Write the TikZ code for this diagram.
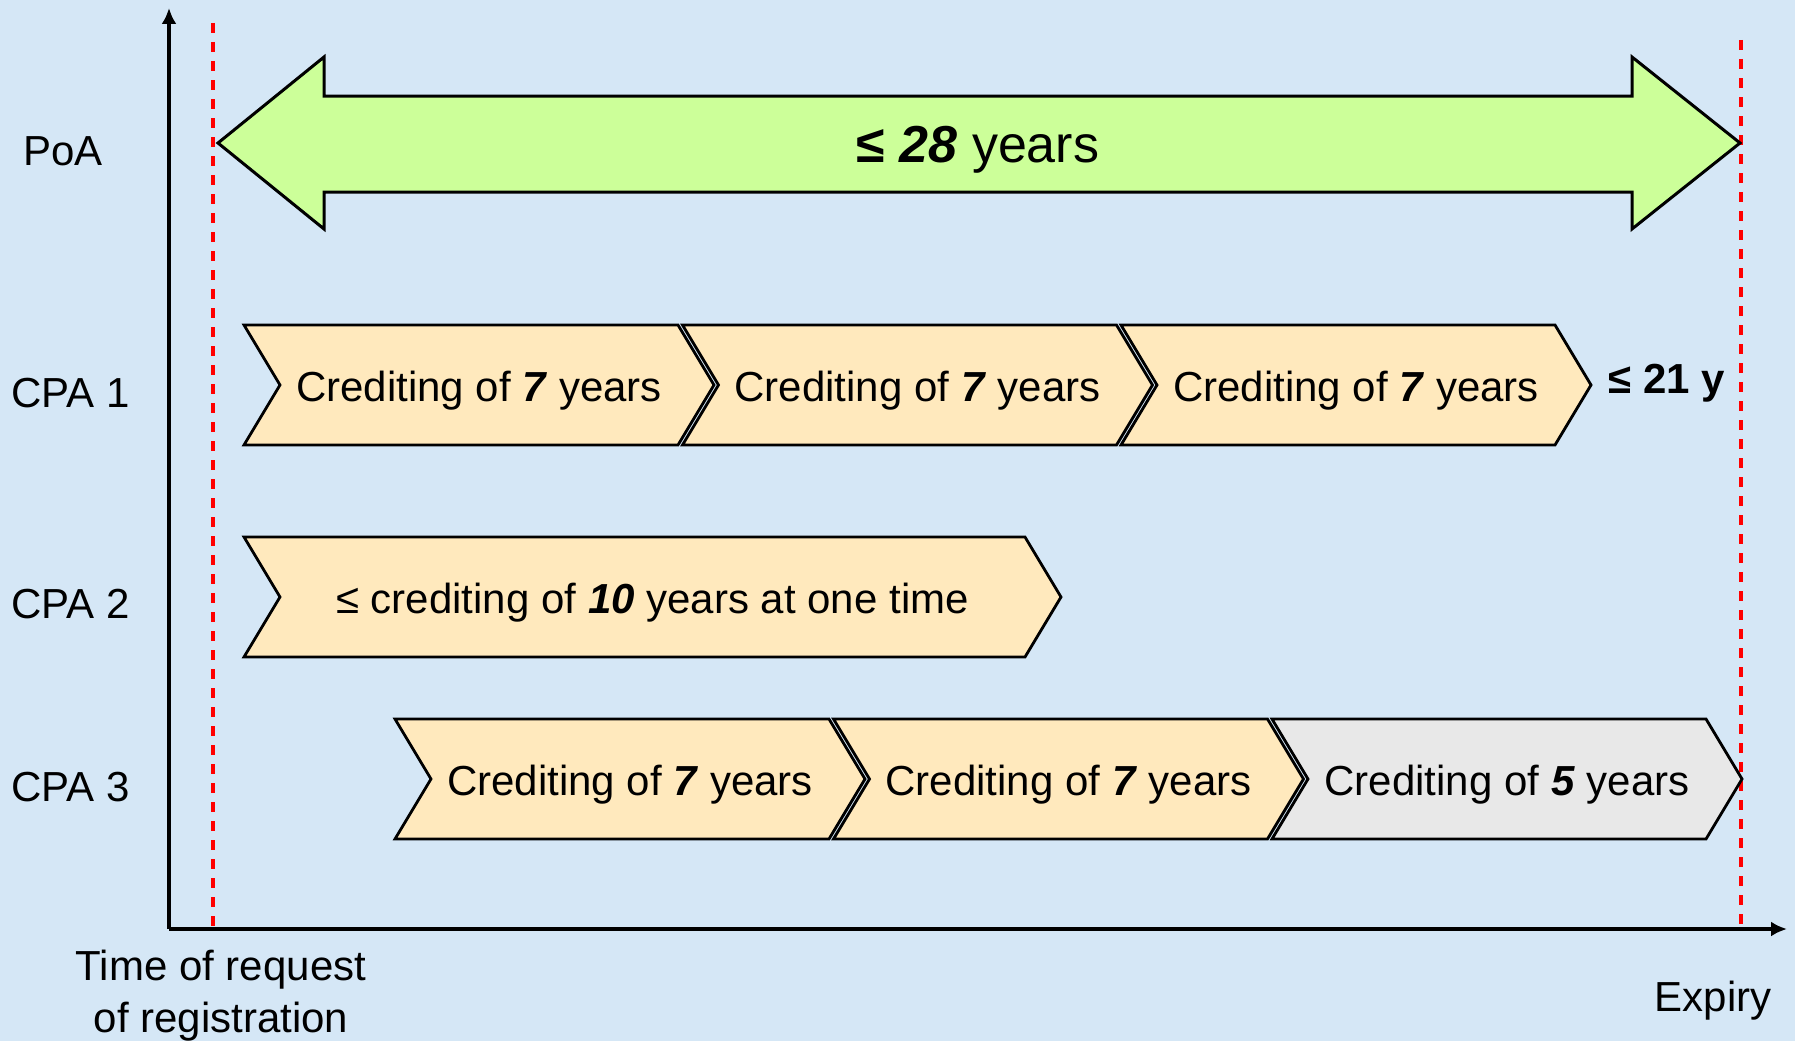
\documentclass[tikz,border=0pt]{standalone}
\usepackage{fontspec}
\setmainfont{Liberation Sans}
\usetikzlibrary{arrows.meta}
\definecolor{bgblue}{HTML}{D5E7F6}
\definecolor{arrowgreen}{HTML}{CCFF99}
\definecolor{chevyellow}{HTML}{FFE9BD}
\definecolor{chevgray}{HTML}{E8E8E8}
\definecolor{dashred}{HTML}{FF0000}
\newcommand\chevshape[6]{%
  \filldraw[chev, fill=#5] (#2,#3) -- ++(#4,0) -- ++(36,60) -- ++(-36,60) -- ++(-#4,0) -- ++(36,-60) -- cycle;
  \node[chevtext, anchor=base] (#1) at ({#2+18+#4/2},{#3+76}) {#6};
}
\tikzset{
  chev/.style={draw=black, line width=2.8pt, line join=miter},
  chevtext/.style={font=\fontsize{42}{50}\selectfont, inner sep=0pt},
  lbl/.style={font=\fontsize{42}{52}\selectfont, inner sep=0pt},
  axisline/.style={draw=black, line width=3.2pt, -{Latex[length=16pt,width=15pt]}},
  reddash/.style={draw=dashred, line width=3.2pt, dash pattern=on 10pt off 9pt},
  bigarrow/.style={draw=black, line width=3pt, fill=arrowgreen, line join=miter},
}
\begin{document}
\begin{tikzpicture}[x=1pt,y=-1pt]
\fill[bgblue] (0,0) rectangle (1795,1041);
\useasboundingbox (0,0) rectangle (1795,1041);
% red dashed limits
\coordinate (rl0) at (213,23);
\coordinate (rl1) at (213,929);
\coordinate (rr0) at (1741,40);
\coordinate (rr1) at (1741,929);
\draw[reddash] (rl0) -- (rl1);
\draw[reddash] (rr0) -- (rr1);
% axes
\coordinate (origin) at (169,929);
\coordinate (ytop) at (169,8);
\coordinate (xend) at (1787,929);
\draw[axisline] (origin) -- (ytop);
\draw[axisline] (origin) -- (xend);
% PoA double arrow
\filldraw[bigarrow] (218,143) -- (324,57) -- (324,96) -- (1632,96) -- (1632,57) -- (1740,143)
  -- (1632,229) -- (1632,192) -- (324,192) -- (324,229) -- cycle;
\node[lbl, anchor=base, font=\fontsize{52}{60}\selectfont] (poatext) at (978,162) {\textbf{≤ \textit{28}} years};
% row labels
\node[lbl, anchor=base west] (poa) at (23,165) {PoA};
\node[lbl, anchor=base west] (cpa1) at (11,407) {CPA 1};
\node[lbl, anchor=base west] (cpa2) at (11,618) {CPA 2};
\node[lbl, anchor=base west] (cpa3) at (11,801) {CPA 3};
% CPA 1
\chevshape{c11}{244}{325}{434}{chevyellow}{Crediting of \textbf{\textit{7}} years}
\chevshape{c12}{682.5}{325}{434}{chevyellow}{Crediting of \textbf{\textit{7}} years}
\chevshape{c13}{1121}{325}{434}{chevyellow}{Crediting of \textbf{\textit{7}} years}
\node[lbl, anchor=base] (c1sum) at (1667,393) {\textbf{≤ 21 y}};
% CPA 2
\chevshape{c21}{244}{537}{781}{chevyellow}{≤ crediting of \textbf{\textit{10}} years at one time}
% CPA 3
\chevshape{c31}{395}{719}{434}{chevyellow}{Crediting of \textbf{\textit{7}} years}
\chevshape{c32}{833.5}{719}{434}{chevyellow}{Crediting of \textbf{\textit{7}} years}
\chevshape{c33}{1272}{719}{434}{chevgray}{Crediting of \textbf{\textit{5}} years}
% bottom labels
\node[lbl, anchor=base, align=center] (treq) at (221,1032) {Time of request\\of registration};
\node[lbl, anchor=base] (expiry) at (1713,1011) {Expiry};
\end{tikzpicture}
\end{document}
